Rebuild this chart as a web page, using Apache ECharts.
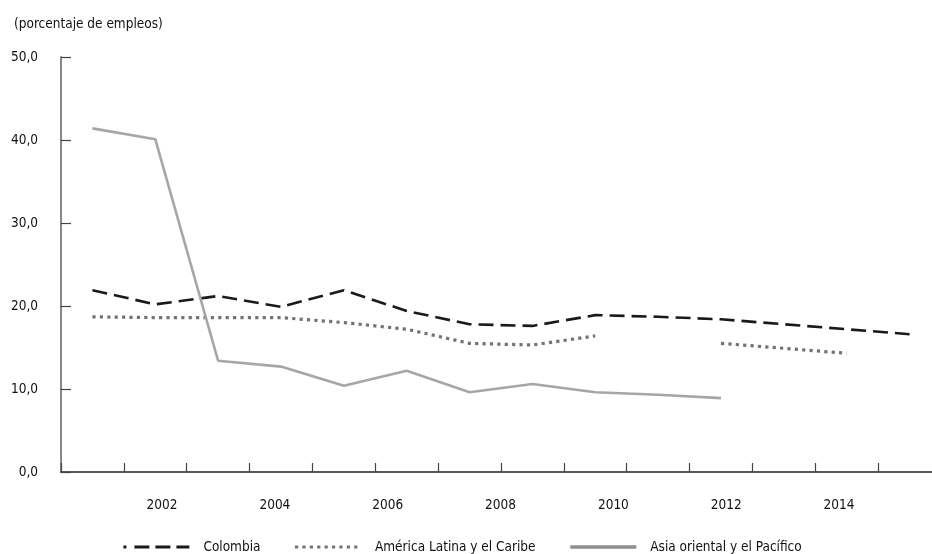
<!DOCTYPE html>
<html>
<head>
<meta charset="utf-8">
<script src="https://cdn.jsdelivr.net/npm/echarts@6/dist/echarts.min.js"></script>
<style>
html,body{margin:0;padding:0;background:#fff;overflow:hidden;}
#c{width:960px;height:554px;}
</style>
</head>
<body>
<div id="c"></div>
<script>
var years = ['2001','2002','2003','2004','2005','2006','2007','2008','2009','2010','2011','2012','2013','2014'];
var yearLabels = [2002, 2004, 2006, 2008, 2010, 2012, 2014];
var colombia = [21.9, 20.2, 21.2, 19.9, 21.9, 19.4, 17.8, 17.6, 18.9, 18.7, 18.4, 17.8, 17.2, 16.6];
var americaLatina = [18.7, 18.6, 18.6, 18.6, 18.0, 17.2, 15.5, 15.3, 16.4, null, 15.5, 14.9, 14.3, null];
var asiaPacifico = [41.4, 40.1, 13.4, 12.7, 10.4, 12.2, 9.6, 10.6, 9.6, 9.3, 8.9, null, null, null];
var yTicks = [0, 10, 20, 30, 40, 50];

var FONT = "'Liberation Sans Narrow', 'DejaVu Sans Condensed', sans-serif";
var FS = 13.5;
var TXT = '#111';
var chart = echarts.init(document.getElementById('c'));
chart.setOption({
  animation: false,
  backgroundColor: '#fff',
  textStyle: {fontFamily: FONT},
  title: {
    text: '(porcentaje de empleos)',
    left: 9, top: 12,
    textStyle: {fontFamily: FONT, fontSize: FS, fontWeight: 'normal', color: TXT}
  },
  legend: {
    left: 117, top: 535,
    itemWidth: 66, itemHeight: 8, itemGap: 33,
    itemStyle: {opacity: 0},
    textStyle: {fontFamily: FONT, fontSize: FS, color: TXT, padding: [0, 0, 0, 9]},
    data: [
      {name: 'Colombia', lineStyle: {type: [3, 8, 15, 6, 15, 6, 15, 200], width: 2.8}},
      {name: 'América Latina y el Caribe', lineStyle: {width: 3}},
      {name: 'Asia oriental y el Pacífico', lineStyle: {width: 3.6, color: '#8f8f8f'}}
    ]
  },
  grid: [
    {left: 61, top: 57, width: 880, height: 415, containLabel: false},
    {left: 49.2, top: 57, width: 902.7, height: 415, containLabel: false}
  ],
  xAxis: [
    {
      type: 'category', data: years, boundaryGap: true, gridIndex: 0,
      axisLine: {lineStyle: {color: '#222', width: 1.5}},
      axisTick: {show: true, inside: true, length: 9, interval: 0, lineStyle: {color: '#444', width: 1.2}},
      axisLabel: {show: false},
      splitLine: {show: false}
    },
    {
      type: 'value', gridIndex: 1, min: 2000, max: 2016, interval: 2,
      axisLine: {show: false}, axisTick: {show: false}, splitLine: {show: false},
      axisLabel: {
        show: true, margin: 26, showMinLabel: false, showMaxLabel: false,
        fontFamily: FONT, fontSize: FS, color: TXT,
        formatter: function (v) { return yearLabels.indexOf(v) >= 0 ? String(v) : ''; }
      }
    }
  ],
  yAxis: [
    {
      type: 'value', gridIndex: 0, min: 0, max: 50, interval: 10,
      axisLine: {show: true, lineStyle: {color: '#888', width: 2}},
      axisTick: {show: true, inside: true, length: 10, lineStyle: {color: '#444', width: 1.2}},
      splitLine: {show: false},
      axisLabel: {
        margin: 23, fontFamily: FONT, fontSize: FS, color: TXT,
        formatter: function (v) { return v.toFixed(1).replace('.', ','); }
      }
    },
    {
      type: 'value', gridIndex: 1, min: 0, max: 50, show: false
    }
  ],
  series: [
    {
      name: 'Colombia', type: 'line', data: colombia, xAxisIndex: 0, yAxisIndex: 0,
      symbol: 'none', color: '#1a1a1a',
      lineStyle: {color: '#1a1a1a', width: 2.6, type: [15, 7]}
    },
    {
      name: 'América Latina y el Caribe', type: 'line', data: americaLatina, xAxisIndex: 0, yAxisIndex: 0,
      symbol: 'none', color: '#737373', connectNulls: false,
      lineStyle: {color: '#737373', width: 3.2, type: [3.2, 4.2], cap: 'butt'}
    },
    {
      name: 'Asia oriental y el Pacífico', type: 'line', data: asiaPacifico, xAxisIndex: 0, yAxisIndex: 0,
      symbol: 'none', color: '#a6a6a6',
      lineStyle: {color: '#a6a6a6', width: 2.6}
    }
  ]
});
</script>
</body>
</html>
